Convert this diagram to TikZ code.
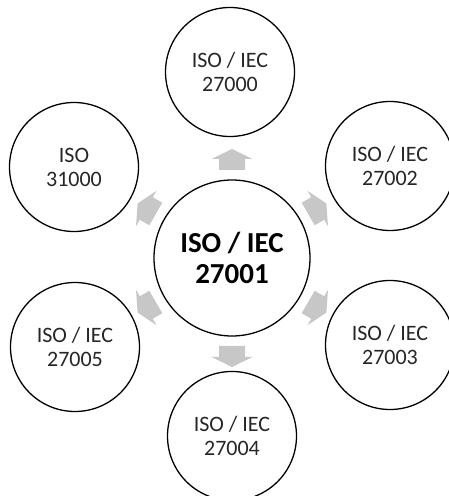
\documentclass[tikz,border=0pt]{standalone}
\usepackage{fontspec}
\setmainfont{Carlito}
\begin{document}
\begin{tikzpicture}[x=1pt,y=1pt,
  stdcircle/.style={circle, draw=black, line width=1.3pt, fill=white,
    minimum size=129pt, inner sep=0pt, align=center,
    font=\fontsize{22}{24}\selectfont, text=black!85},
  corecircle/.style={circle, draw=black, line width=1.3pt, fill=white,
    minimum size=156pt, inner sep=0pt, align=center,
    font=\fontsize{29}{31}\selectfont\bfseries, text=black},
  blockarrow/.style={fill=black!22, draw=none}]
\useasboundingbox (0,0) rectangle (448,496);

% central standard
\node[corecircle] (core) at (232,238) {ISO / IEC\\27001};

% related standards around it
\node[stdcircle] (s27000) at (230,424) {ISO / IEC\\27000};
\node[stdcircle] (s31000) at (74,329)  {ISO\\31000};
\node[stdcircle] (s27002) at (390,330) {ISO / IEC\\27002};
\node[stdcircle] (s27005) at (75,149)  {ISO / IEC\\27005};
\node[stdcircle] (s27003) at (390,151) {ISO / IEC\\27003};
\node[stdcircle] (s27004) at (232,60)  {ISO / IEC\\27004};

% short block arrows pointing outward from the core
\foreach \ang in {90,30,-30,-90,-150,150}{
  \fill[blockarrow, shift={(core.center)}, rotate=\ang]
    (88,-13) -- (99,-13) -- (99,-20.5) -- (109,0) -- (99,20.5)
    -- (99,13) -- (88,13) -- cycle;
}
\end{tikzpicture}
\end{document}
